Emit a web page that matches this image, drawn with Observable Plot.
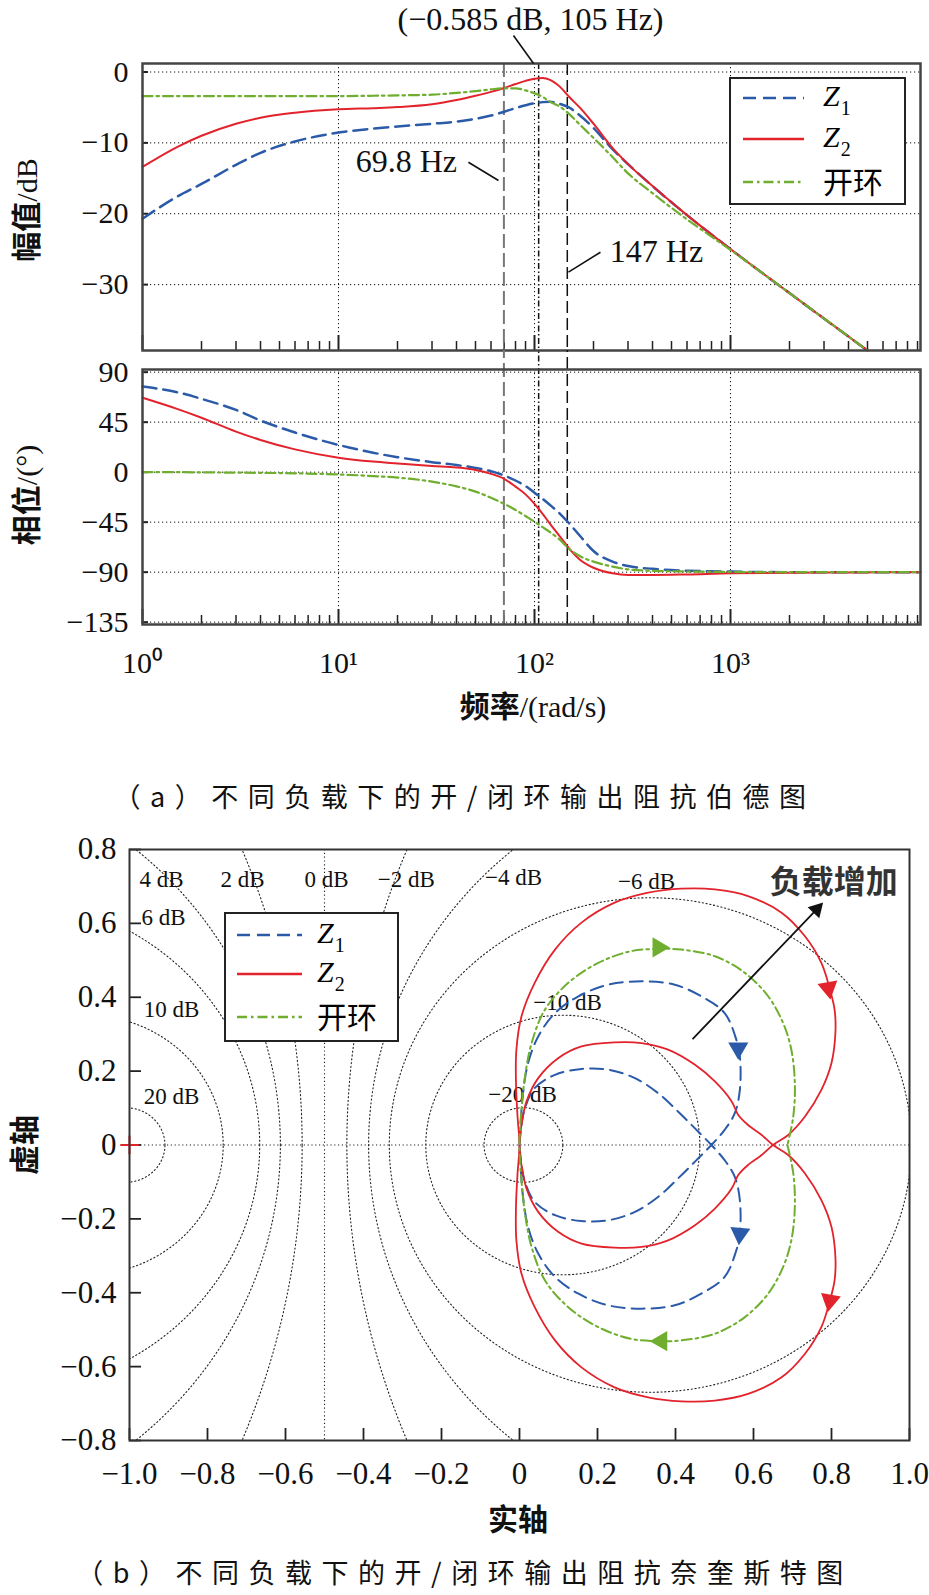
<!DOCTYPE html>
<html><head><meta charset="utf-8">
<script src="https://cdn.jsdelivr.net/npm/d3@7"></script>
<script src="https://cdn.jsdelivr.net/npm/@observablehq/plot@0.6"></script>
<style>
html,body{margin:0;padding:0;background:#fff;}
#wrap{position:relative;width:929px;height:1595px;overflow:hidden;background:#fff;}
#wrap > svg{position:absolute;left:0;}
.t{position:absolute;white-space:nowrap;line-height:1;color:#111;}
.serif{font-family:'Liberation Serif','Times New Roman',serif;}
.cjk{font-family:'Noto Sans CJK SC',sans-serif;}
.title{font-family:'Liberation Serif','Noto Sans CJK SC',serif;font-size:30px;}
.title b{font-family:'Noto Sans CJK SC',sans-serif;font-weight:700;}
.rot{transform:translate(-50%,-50%) rotate(-90deg);}
.ctr{transform:translate(-50%,-50%);}
.legend{position:absolute;background:#fff;border:2px solid #222;box-sizing:border-box;}
.legend svg{position:absolute;}
.legend .lt{position:absolute;font-size:30px;line-height:34px;white-space:nowrap;}
.z{font-family:'Liberation Serif',serif;font-style:italic;}
.sub{font-family:'Liberation Serif',serif;font-size:20px;position:relative;top:9px;margin-left:1px;}
.cap{position:absolute;left:0;width:929px;text-align:center;font-family:'Noto Sans CJK SC',sans-serif;font-weight:400;font-size:27px;letter-spacing:9.5px;line-height:30px;height:30px;color:#111;}
</style></head><body><div id="wrap"></div><script>
// ---------------- Bode data ----------------
const freq   = [1,1.5,2,3,4,6,10,15,20,30,40,50,60,70,80,90,100,110,120,135,150,170,200,250,300,400,600,1000,2000,5000];
const magZ1  = [-20.7,-17.6,-15.8,-13.1,-11.4,-9.8,-8.55,-8.0,-7.7,-7.3,-7.0,-6.6,-6.15,-5.6,-5.1,-4.7,-4.4,-4.25,-4.2,-4.5,-5.0,-6.1,-7.9,-10.9,-13.0,-16.1,-20.2,-25.0,-31.2,-39.3];
const magZ2  = [-13.4,-10.6,-9.0,-7.3,-6.45,-5.75,-5.27,-5.1,-4.95,-4.55,-3.95,-3.35,-2.8,-2.25,-1.7,-1.25,-0.95,-0.85,-1.1,-2.1,-3.5,-5.0,-7.3,-10.7,-13.0,-16.1,-20.2,-25.0,-31.2,-39.3];
const magOL  = [-3.4,-3.4,-3.4,-3.4,-3.4,-3.4,-3.4,-3.35,-3.3,-3.2,-2.95,-2.7,-2.45,-2.3,-2.3,-2.6,-3.0,-3.5,-4.2,-4.9,-5.9,-7.4,-9.3,-12.0,-14.3,-17.1,-20.8,-25.1,-31.2,-39.3];
const freqPh = [1,1.5,2,3,4,6,10,15,20,30,40,50,60,70,80,90,100,110,120,135,150,170,200,250,300,400,600,1000,2000,5000,9300];
const phZ1   = [77,72,66,56,46.5,35.7,24.5,17.5,13.5,9,6.4,3.8,0.8,-3,-7.5,-12.5,-18.5,-24,-29.5,-37.5,-46,-57,-71,-80.5,-84.5,-87,-88.7,-89.5,-90,-90,-90];
const phZ2   = [67,57,49,36.5,29,20.5,13,9.5,7.8,5.5,4.2,2,-1.5,-6,-13,-20,-28.5,-37.5,-46.5,-58,-68.5,-78.5,-86,-91,-92.5,-92.5,-92,-91,-90.6,-90.2,-90];
const phOL   = [0,0,-0.2,-0.4,-0.6,-1.0,-2.1,-3.5,-4.9,-8.5,-12.8,-17.5,-23,-28.5,-34,-39.5,-44.5,-49.5,-54,-61,-69,-75.5,-80.5,-85,-87.5,-88.8,-89.4,-89.8,-90,-90,-90];
const decades = [1,10,100,1000];
const magTicks = [0,-10,-20,-30];
const phTicks = [90,45,0,-45,-90,-135];
const markerFreq = [69.8,105,147];
const annText = ["(−0.585 dB, 105 Hz)","69.8 Hz","147 Hz"];
const annX = [95.4,22.2,419];
const annY = [7.41,-12.73,-25.43];
const leadX1 = [78.1,46.0,149], leadY1 = [5.15,-12.73,-28.25];
const leadX2 = [98.9,65.5,217], leadY2 = [1.2,-15.31,-25.43];
const seriesNames = ["Z1","Z2","开环"];

// ---------------- Nyquist data ----------------
const reZ1 = [0,0.004,0.014,0.039,0.091,0.159,0.227,0.296,0.356,0.407,0.45,0.492,0.526,0.552,0.565,0.565,0.556,0.526,0.467,0.398,0.313,0.227,0.15,0.091,0.048,0.022,0.009,0.003,0];
const imZ1 = [0,0.045,0.1,0.154,0.19,0.206,0.204,0.181,0.14,0.09,0.045,0,-0.041,-0.086,-0.149,-0.24,-0.285,-0.357,-0.402,-0.434,-0.443,-0.434,-0.402,-0.357,-0.294,-0.222,-0.14,-0.059,0];
const reZ2 = [0,0.005,0.018,0.048,0.099,0.159,0.244,0.313,0.381,0.45,0.501,0.544,0.561,0.586,0.621,0.650,0.689,0.732,0.774,0.8,0.81,0.808,0.796,0.774,0.732,0.672,0.586,0.501,0.415,0.33,0.244,0.159,0.091,0.039,0.005,-0.008,-0.009,-0.005,0];
const imZ2 = [0,0.054,0.118,0.181,0.235,0.267,0.278,0.276,0.258,0.217,0.172,0.118,0.081,0.054,0.027,0,-0.027,-0.077,-0.149,-0.222,-0.303,-0.366,-0.421,-0.493,-0.565,-0.629,-0.674,-0.692,-0.694,-0.683,-0.656,-0.602,-0.529,-0.439,-0.348,-0.258,-0.167,-0.077,0];
const reOL = [0.687,0.702,0.706,0.697,0.676,0.638,0.578,0.501,0.415,0.364,0.287,0.202,0.125,0.065,0.031,0.014,0.005,0];
const imOL = [0,-0.077,-0.167,-0.258,-0.33,-0.402,-0.466,-0.511,-0.529,-0.531,-0.525,-0.493,-0.439,-0.366,-0.276,-0.185,-0.095,0];
const arrowSeries = ["开环","开环","Z1","Z1","Z2","Z2"];
const arrowX = [0.356,0.364,0.561,0.565,0.792,0.796];
const arrowY = [0.535,-0.531,0.262,-0.24,0.425,-0.421];
const arrowDir = [90,270,180,185,170,190];
const mCircleDB = [-20,-10,-6,-4,-2,0,2,4,6,10,20];
const mLabels = ["4 dB","2 dB","0 dB","−2 dB","−4 dB","−6 dB","6 dB","10 dB","20 dB","−10 dB","−20 dB"];
const mLabelX = [-0.918,-0.71,-0.495,-0.29,-0.015,0.326,-0.913,-0.892,-0.892,0.123,0.008];
const mLabelY = [0.719,0.719,0.719,0.719,0.725,0.714,0.615,0.366,0.131,0.385,0.136];
const nyTicks = [-1,-0.8,-0.6,-0.4,-0.2,0,0.2,0.4,0.6,0.8,1];
const nyTicksY = [-0.8,-0.6,-0.4,-0.2,0,0.2,0.4,0.6,0.8];
const loadText = "负载增加", loadTextX = 0.806, loadTextY = 0.711;
const loadArrow = {x1:0.445, y1:0.288, x2:0.762, y2:0.638};
const critX = -1, critY = 0;

// ---------------- styles ----------------
const C = {Z1:"#2b5ba8", Z2:"#e3232c", 开环:"#6fae2e"};
const DASH = {Z1:"14,7", Z2:null, 开环:"10,4,2.5,4"};
const WID = {Z1:2.5, Z2:2, 开环:2.2};
const grid = {stroke:"#111", strokeWidth:1, strokeDasharray:"1.2,2.8"};
const baseStyle = {fontFamily:"'Liberation Serif','Times New Roman',serif", fontSize:"30px", background:"transparent", overflow:"visible", color:"#111"};
const fmtInt = d => (d < 0 ? "−" + Math.abs(d) : String(d));
const fmtDec = d => Math.abs(d) < 1e-9 ? "0" : (d < 0 ? "−" : "") + Math.abs(d).toFixed(1);
const sup = {"0":"⁰","1":"¹","2":"²","3":"³"};

const wrap = document.getElementById("wrap");
const X_MAX = Math.pow(10, 778/196);
const X_DOMAIN = [1, X_MAX];
const minorTicks = [];
for (const d of [1,10,100,1000]) for (let k=2;k<=9;k++) if (d*k < X_MAX) minorTicks.push(d*k);

// ================= Chart 1: magnitude =================
const MAG = [-39.3, 1.2];
const magPx = 287/(MAG[1]-MAG[0]);
const magData = [];
freq.forEach((f,i)=>{ magData.push({f, v:magZ1[i], s:"Z1"}, {f, v:magZ2[i], s:"Z2"}, {f, v:magOL[i], s:"开环"}); });
const lineMarks = (data, yk) => seriesNames.map(s => Plot.line(data.filter(d=>d.s===s), {x:"f", y:yk, stroke:C[s], strokeWidth:WID[s], strokeDasharray:DASH[s], curve:"monotone-x"}));
const vrules = (extra) => [
  Plot.ruleX([markerFreq[0]], {...extra, stroke:"#777", strokeWidth:2, strokeDasharray:"14,5"}),
  Plot.ruleX([markerFreq[1]], {...extra, stroke:"#111", strokeWidth:1.5, strokeDasharray:"6,2.5,1.5,2.5"}),
  Plot.ruleX([markerFreq[2]], {...extra, stroke:"#111", strokeWidth:1.5, strokeDasharray:"12,5"})
];
const ann = annText.map((t,i)=>({t, x:annX[i], y:annY[i]}));
const leads = leadX1.map((x,i)=>({x1:x, y1:leadY1[i], x2:leadX2[i], y2:leadY2[i]}));

const chart1 = Plot.plot({
  width:929, height:355, marginLeft:142, marginRight:9, marginTop:63, marginBottom:5,
  x:{type:"log", domain:X_DOMAIN, axis:null},
  y:{domain:MAG, axis:null, label:null},
  style:baseStyle,
  marks:[
    Plot.ruleX(decades, grid),
    Plot.ruleY(magTicks, grid),
    Plot.ruleX(minorTicks, {y1:MAG[0], y2:MAG[0]+9/magPx, stroke:"#222", strokeWidth:1.5}),
    Plot.ruleX(decades, {y1:MAG[0], y2:MAG[0]+15/magPx, stroke:"#222", strokeWidth:2}),
    Plot.ruleY(magTicks, {x1:1, x2:Math.pow(10,6/196), stroke:"#222", strokeWidth:2}),
    Plot.axisY({ticks:magTicks, tickSize:0, tickPadding:14, fontSize:30, tickFormat:fmtInt, label:null}),
    ...vrules({}),
    ...lineMarks(magData, "v"),
    Plot.frame({stroke:"#444", strokeWidth:2.5}),
    Plot.link(leads, {x1:"x1", y1:"y1", x2:"x2", y2:"y2", stroke:"#111", strokeWidth:1.6}),
    Plot.text(ann, {x:"x", y:"y", text:"t", fontSize:32, fill:"#111"})
  ]
});
chart1.style.top = "0px";
wrap.appendChild(chart1);

// ================= Chart 2: phase =================
const PH = [-137.1, 92.4];
const phPx = 255/(PH[1]-PH[0]);
const phData = [];
freqPh.forEach((f,i)=>{ phData.push({f, v:phZ1[i], s:"Z1"}, {f, v:phZ2[i], s:"Z2"}, {f, v:phOL[i], s:"开环"}); });
const chart2 = Plot.plot({
  width:929, height:390, marginLeft:142, marginRight:9, marginTop:19, marginBottom:116,
  x:{type:"log", domain:X_DOMAIN, axis:null, label:null},
  y:{domain:PH, axis:null, label:null},
  style:baseStyle,
  marks:[
    Plot.ruleX(decades, grid),
    Plot.ruleY(phTicks, grid),
    Plot.ruleX(minorTicks, {y1:PH[0], y2:PH[0]+9/phPx, stroke:"#222", strokeWidth:1.5}),
    Plot.ruleX(decades, {y1:PH[0], y2:PH[0]+15/phPx, stroke:"#222", strokeWidth:2}),
    Plot.ruleY(phTicks, {x1:1, x2:Math.pow(10,6/196), stroke:"#222", strokeWidth:2}),
    Plot.axisY({ticks:phTicks, tickSize:0, tickPadding:14, fontSize:30, tickFormat:fmtInt, label:null}),
    Plot.axisX({ticks:decades, tickSize:0, tickPadding:27, fontSize:30, tickFormat:d=>"10"+sup[String(Math.round(Math.log10(d)))], label:null}),
    ...vrules({y1:PH[0], y2:PH[1]+19/phPx}),
    ...lineMarks(phData, "v"),
    Plot.frame({stroke:"#444", strokeWidth:2.5})
  ]
});
chart2.style.top = "350px";
wrap.appendChild(chart2);

// ================= Chart 3: Nyquist =================
const closedPath = (re, im, s) => {
  const p = re.map((x,i)=>({x, y:im[i], s}));
  const m = p.slice().reverse().map(q=>({x:q.x, y:-q.y, s}));
  return p.concat(m.slice(1));
};
const nyData = {Z1:closedPath(reZ1, imZ1, "Z1"), Z2:closedPath(reZ2, imZ2, "Z2"), 开环:closedPath(reOL, imOL, "开环")};
const circles = [];
const zeroLine = [];
for (const db of mCircleDB) {
  const M = Math.pow(10, db/20), M2 = M*M;
  if (db === 0) { zeroLine.push(-0.5); continue; }
  const c = -M2/(M2-1), r = Math.abs(M/(M2-1));
  for (let i=0;i<=1440;i++){ const t = i*Math.PI/720; circles.push({db, x:c+r*Math.cos(t), y:r*Math.sin(t)}); }
}
const mLab = mLabels.map((t,i)=>({t, x:mLabelX[i], y:mLabelY[i]}));
const arrows = arrowSeries.map((s,i)=>({s, x:arrowX[i], y:arrowY[i], r:arrowDir[i]}));
const NX = [-1,1], NY = [-0.8,0.8];
const nxPx = 780/2, nyPx = 591/1.6;
const aDx = loadArrow.x2-loadArrow.x1, aDy = loadArrow.y2-loadArrow.y1;
const aAng = Math.atan2(aDx*nxPx, aDy*nyPx)*180/Math.PI;

const chart3 = Plot.plot({
  width:929, height:725, marginLeft:129, marginRight:20, marginTop:29, marginBottom:105,
  x:{domain:NX, axis:null, label:null},
  y:{domain:NY, axis:null, label:null},
  style:baseStyle,
  marks:[
    Plot.line(circles, {x:"x", y:"y", z:"db", stroke:"#222", strokeWidth:1.1, strokeDasharray:"1.2,2.6", clip:true}),
    Plot.ruleX(zeroLine, {stroke:"#222", strokeWidth:1.1, strokeDasharray:"1.2,2.6"}),
    Plot.ruleY([0], {stroke:"#222", strokeWidth:1.1, strokeDasharray:"1.2,2.6"}),
    Plot.text(mLab, {x:"x", y:"y", text:"t", fontSize:23, fill:"#111"}),
    Plot.ruleY(nyTicksY, {x1:NX[0], x2:NX[0]+12/nxPx, stroke:"#222", strokeWidth:1.8}),
    Plot.ruleX(nyTicks, {y1:NY[0], y2:NY[0]+12/nyPx, stroke:"#222", strokeWidth:1.8}),
    Plot.axisY({ticks:nyTicksY, tickSize:0, tickPadding:13, fontSize:31, tickFormat:fmtDec, label:null}),
    Plot.axisX({ticks:nyTicks, tickSize:0, tickPadding:21, fontSize:31, tickFormat:fmtDec, label:null}),
    ...seriesNames.map(s => Plot.line(nyData[s], {x:"x", y:"y", stroke:C[s], strokeWidth:s==="Z2"?1.8:2, strokeDasharray:s==="Z1"?"13,7":DASH[s], curve:"catmull-rom"})),
    ...seriesNames.map(s => Plot.dot(arrows.filter(a=>a.s===s), {x:"x", y:"y", symbol:"triangle", r:6.5, fill:C[s], stroke:C[s], rotate:"r"})),
    Plot.dot([{x:critX, y:critY}], {x:"x", y:"y", symbol:"plus", r:6, stroke:C.Z2, strokeWidth:2}),
    Plot.arrow([loadArrow], {x1:"x1", y1:"y1", x2:"x2", y2:"y2", stroke:"#111", strokeWidth:1.8, headLength:0}),
    Plot.dot([{x:loadArrow.x2, y:loadArrow.y2, r:aAng}], {x:"x", y:"y", symbol:"triangle", r:6, fill:"#111", rotate:"r"}),
    Plot.text([{t:loadText, x:loadTextX, y:loadTextY}], {x:"x", y:"y", text:"t", fontSize:32, fontWeight:700, fontFamily:"'Noto Sans CJK SC',sans-serif", fill:"#333"}),
    Plot.frame({stroke:"#333", strokeWidth:2})
  ]
});
chart3.style.top = "820px";
wrap.appendChild(chart3);

// ================= HTML text: axis titles, legends, captions =================
function addDiv(html, cls, css){ const d=document.createElement("div"); d.className=cls; d.innerHTML=html; Object.assign(d.style, css); wrap.appendChild(d); return d; }
addDiv("<b>幅值</b>/dB", "t title rot", {left:"25px", top:"210px"});
addDiv("<b>相位</b>/(°)", "t title rot", {left:"25px", top:"495px"});
addDiv("<b>频率</b>/(rad/s)", "t title ctr", {left:"533px", top:"705px"});
addDiv("<b>实轴</b>", "t title ctr", {left:"518px", top:"1518px"});
addDiv("<b>虚轴</b>", "t title rot", {left:"23px", top:"1145px"});

function legend(left, top, w, h, rows, lx1, lx2, tx){
  const box = document.createElement("div");
  box.className = "legend";
  Object.assign(box.style, {left:left+"px", top:top+"px", width:w+"px", height:h+"px"});
  seriesNames.forEach((s,i)=>{
    const y = rows[i];
    const svg = document.createElementNS("http://www.w3.org/2000/svg","svg");
    svg.setAttribute("width", lx2-lx1); svg.setAttribute("height", 10);
    svg.style.left = (lx1-2)+"px"; svg.style.top = (y-2-5)+"px";
    const ln = document.createElementNS("http://www.w3.org/2000/svg","line");
    ln.setAttribute("x1",0); ln.setAttribute("x2",lx2-lx1); ln.setAttribute("y1",5); ln.setAttribute("y2",5);
    ln.setAttribute("stroke", C[s]); ln.setAttribute("stroke-width", 2.5);
    if (DASH[s]) ln.setAttribute("stroke-dasharray", s==="Z1" ? "13,7" : "10,4,2.5,4");
    svg.appendChild(ln); box.appendChild(svg);
    const t = document.createElement("div"); t.className="lt";
    t.innerHTML = s==="开环" ? '<span class="cjk">开环</span>' : '<span class="z">Z</span><span class="sub">'+s.slice(1)+'</span>';
    t.style.left = (tx-2)+"px"; t.style.top = (y-2-19)+"px";
    box.appendChild(t);
  });
  wrap.appendChild(box);
}
legend(729, 77, 177, 128, [20.7,62.3,104.7], 14, 75, 94);
legend(224, 912, 175, 130, [23,62,105], 13, 78, 93);

addDiv("（a）不同负载下的开/闭环输出阻抗伯德图", "cap", {top:"781px"});
addDiv("（b）不同负载下的开/闭环输出阻抗奈奎斯特图", "cap", {top:"1557px"});
</script></body></html>
